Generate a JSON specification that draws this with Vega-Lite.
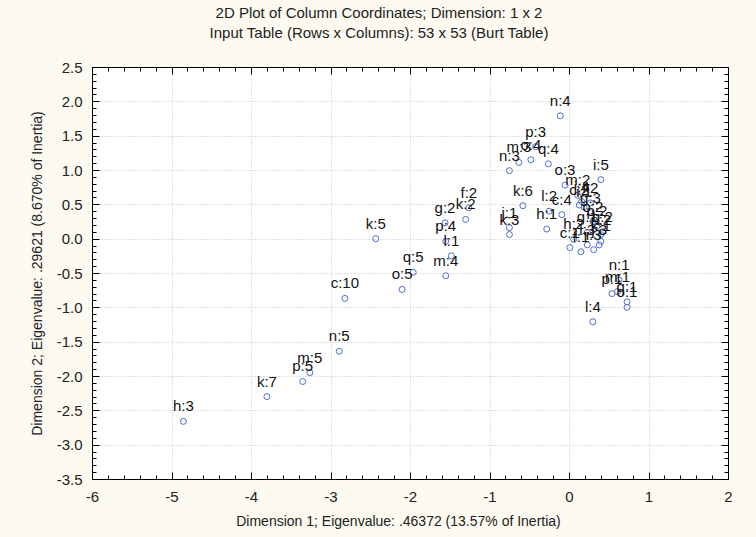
{
  "$schema": "https://vega.github.io/schema/vega-lite/v6.json",
  "width": 636,
  "height": 412,
  "autosize": {"type": "none"},
  "padding": {"left": 92, "top": 67, "right": 28, "bottom": 58},
  "background": "#fcfaf1",
  "title": {
    "text": ["2D Plot of Column Coordinates; Dimension: 1 x 2", "Input Table (Rows x Columns): 53 x 53 (Burt Table)"],
    "font": "Liberation Sans",
    "fontSize": 15,
    "fontWeight": "normal",
    "color": "#222222",
    "anchor": "middle",
    "dx": -31,
    "offset": 19,
    "lineHeight": 20
  },
  "config": {
    "font": "Liberation Sans",
    "view": {"stroke": "#000000", "strokeWidth": 1, "fill": "#ffffff"},
    "axis": {
      "domainColor": "#000000",
      "tickColor": "#000000",
      "labelFont": "Liberation Sans",
      "labelFontSize": 15,
      "labelColor": "#222222",
      "titleFont": "Liberation Sans",
      "titleFontSize": 14,
      "titleFontWeight": "normal",
      "titleColor": "#222222"
    }
  },
  "data": {
    "values": [
      {"label": "h:3", "d1": -4.85, "d2": -2.66},
      {"label": "k:7", "d1": -3.80, "d2": -2.30},
      {"label": "p:5", "d1": -3.35, "d2": -2.08},
      {"label": "m:5", "d1": -3.26, "d2": -1.95},
      {"label": "n:5", "d1": -2.89, "d2": -1.64},
      {"label": "c:10", "d1": -2.82, "d2": -0.87},
      {"label": "k:5", "d1": -2.43, "d2": 0.0},
      {"label": "o:5", "d1": -2.10, "d2": -0.74},
      {"label": "q:5", "d1": -1.96, "d2": -0.49},
      {"label": "m:4", "d1": -1.55, "d2": -0.54},
      {"label": "l:1", "d1": -1.48, "d2": -0.25},
      {"label": "p:4", "d1": -1.55, "d2": -0.04},
      {"label": "g:2", "d1": -1.56, "d2": 0.23},
      {"label": "f:2", "d1": -1.26, "d2": 0.45},
      {"label": "k:2", "d1": -1.30, "d2": 0.28},
      {"label": "j:1", "d1": -0.75, "d2": 0.16},
      {"label": "k:3", "d1": -0.75, "d2": 0.06},
      {"label": "n:3", "d1": -0.75, "d2": 0.99},
      {"label": "m:3", "d1": -0.63, "d2": 1.11},
      {"label": "o:4", "d1": -0.48, "d2": 1.15},
      {"label": "p:3", "d1": -0.42, "d2": 1.34},
      {"label": "q:4", "d1": -0.26, "d2": 1.09},
      {"label": "n:4", "d1": -0.11, "d2": 1.79},
      {"label": "k:6", "d1": -0.58, "d2": 0.48},
      {"label": "o:3", "d1": -0.05, "d2": 0.78},
      {"label": "i:5", "d1": 0.40, "d2": 0.86},
      {"label": "l:2", "d1": -0.25, "d2": 0.40},
      {"label": "c:4", "d1": -0.09, "d2": 0.35},
      {"label": "h:1", "d1": -0.28, "d2": 0.14},
      {"label": "n:1", "d1": 0.63, "d2": -0.60},
      {"label": "p:1", "d1": 0.54, "d2": -0.80},
      {"label": "m:1", "d1": 0.61, "d2": -0.77},
      {"label": "q:1", "d1": 0.73, "d2": -0.92},
      {"label": "o:1", "d1": 0.73, "d2": -1.00},
      {"label": "l:4", "d1": 0.30, "d2": -1.21},
      {"label": "m:2", "d1": 0.11, "d2": 0.63},
      {"label": "j:4", "d1": 0.16, "d2": 0.54},
      {"label": "i:2", "d1": 0.27, "d2": 0.52},
      {"label": "c:2", "d1": 0.13, "d2": 0.49},
      {"label": "i:1", "d1": 0.19, "d2": 0.46},
      {"label": "h:2", "d1": 0.06, "d2": -0.01},
      {"label": "g:3", "d1": 0.27, "d2": 0.38},
      {"label": "q:2", "d1": 0.42, "d2": 0.10},
      {"label": "c:1", "d1": 0.01, "d2": -0.13},
      {"label": "f:1", "d1": 0.15, "d2": -0.19},
      {"label": "g:1", "d1": 0.23, "d2": 0.09},
      {"label": "i:3", "d1": 0.31, "d2": -0.16},
      {"label": "j:3", "d1": 0.38, "d2": -0.09},
      {"label": "k:1", "d1": 0.40, "d2": -0.04},
      {"label": "l:3", "d1": 0.23, "d2": -0.09},
      {"label": "n:2", "d1": 0.40, "d2": 0.06},
      {"label": "o:2", "d1": 0.30, "d2": 0.25},
      {"label": "p:2", "d1": 0.35, "d2": 0.18}
    ]
  },
  "resolve": {"axis": {"x": "independent", "y": "independent"}},
  "layer": [
    {
      "mark": {"type": "point", "shape": "circle", "filled": false, "size": 36, "strokeWidth": 1, "color": "#4d6fd1", "opacity": 1},
      "encoding": {
        "x": {
          "field": "d1", "type": "quantitative",
          "scale": {"domain": [-6, 2], "nice": false, "zero": false},
          "axis": {
            "orient": "bottom",
            "title": "Dimension 1; Eigenvalue: .46372 (13.57% of Inertia)",
            "titlePadding": 10,
            "titleX": 306,
            "values": [-6, -5.8, -5.6, -5.4, -5.2, -5, -4.8, -4.6, -4.4, -4.2, -4, -3.8, -3.6, -3.4, -3.2, -3, -2.8, -2.6, -2.4, -2.2, -2, -1.8, -1.6, -1.4, -1.2, -1, -0.8, -0.6, -0.4, -0.2, 0, 0.2, 0.4, 0.6, 0.8, 1, 1.2, 1.4, 1.6, 1.8, 2],
            "labelExpr": "abs(datum.value - round(datum.value)) < 0.001 ? ((datum.value < 0 ? '-' : '') + format(abs(datum.value), 'd')) : ''",
            "tickSize": {"condition": {"test": "abs(datum.value - round(datum.value)) < 0.001", "value": -7}, "value": -4},
            "labelPadding": 17,
            "labelFlush": false,
            "grid": true,
            "gridColor": "#c4c4c4",
            "gridDash": [1, 2],
            "gridOpacity": {"condition": {"test": "abs(datum.value - round(datum.value)) < 0.001", "value": 1}, "value": 0}
          }
        },
        "y": {
          "field": "d2", "type": "quantitative",
          "scale": {"domain": [-3.5, 2.5], "nice": false, "zero": false},
          "axis": {
            "orient": "left",
            "title": "Dimension 2; Eigenvalue: .29621 (8.670% of Inertia)",
            "titlePadding": 12,
            "values": [-3.5, -3.4, -3.3, -3.2, -3.1, -3, -2.9, -2.8, -2.7, -2.6, -2.5, -2.4, -2.3, -2.2, -2.1, -2, -1.9, -1.8, -1.7, -1.6, -1.5, -1.4, -1.3, -1.2, -1.1, -1, -0.9, -0.8, -0.7, -0.6, -0.5, -0.4, -0.3, -0.2, -0.1, 0, 0.1, 0.2, 0.3, 0.4, 0.5, 0.6, 0.7, 0.8, 0.9, 1, 1.1, 1.2, 1.3, 1.4, 1.5, 1.6, 1.7, 1.8, 1.9, 2, 2.1, 2.2, 2.3, 2.4, 2.5],
            "labelExpr": "abs(datum.value * 2 - round(datum.value * 2)) < 0.001 ? ((datum.value < -0.01 ? '-' : '') + format(abs(datum.value), '.1f')) : ''",
            "tickSize": {"condition": {"test": "abs(datum.value * 2 - round(datum.value * 2)) < 0.001", "value": -7}, "value": -4},
            "labelPadding": 17,
            "labelFlush": false,
            "grid": true,
            "gridColor": "#c4c4c4",
            "gridDash": [1, 2],
            "gridOpacity": {"condition": {"test": "abs(datum.value * 2 - round(datum.value * 2)) < 0.001", "value": 1}, "value": 0}
          }
        }
      }
    },
    {
      "mark": {"type": "text", "align": "center", "baseline": "alphabetic", "dy": -10, "fontSize": 15, "font": "Liberation Sans", "color": "#111111"},
      "encoding": {
        "x": {
          "field": "d1", "type": "quantitative",
          "scale": {"domain": [-6, 2], "nice": false, "zero": false},
          "axis": {
            "orient": "top",
            "title": null,
            "labels": false,
            "grid": false,
            "values": [-6, -5.8, -5.6, -5.4, -5.2, -5, -4.8, -4.6, -4.4, -4.2, -4, -3.8, -3.6, -3.4, -3.2, -3, -2.8, -2.6, -2.4, -2.2, -2, -1.8, -1.6, -1.4, -1.2, -1, -0.8, -0.6, -0.4, -0.2, 0, 0.2, 0.4, 0.6, 0.8, 1, 1.2, 1.4, 1.6, 1.8, 2],
            "tickSize": {"condition": {"test": "abs(datum.value - round(datum.value)) < 0.001", "value": -7}, "value": -4}
          }
        },
        "y": {
          "field": "d2", "type": "quantitative",
          "scale": {"domain": [-3.5, 2.5], "nice": false, "zero": false},
          "axis": {
            "orient": "right",
            "title": null,
            "labels": false,
            "grid": false,
            "values": [-3.5, -3.4, -3.3, -3.2, -3.1, -3, -2.9, -2.8, -2.7, -2.6, -2.5, -2.4, -2.3, -2.2, -2.1, -2, -1.9, -1.8, -1.7, -1.6, -1.5, -1.4, -1.3, -1.2, -1.1, -1, -0.9, -0.8, -0.7, -0.6, -0.5, -0.4, -0.3, -0.2, -0.1, 0, 0.1, 0.2, 0.3, 0.4, 0.5, 0.6, 0.7, 0.8, 0.9, 1, 1.1, 1.2, 1.3, 1.4, 1.5, 1.6, 1.7, 1.8, 1.9, 2, 2.1, 2.2, 2.3, 2.4, 2.5],
            "tickSize": {"condition": {"test": "abs(datum.value * 2 - round(datum.value * 2)) < 0.001", "value": -7}, "value": -4}
          }
        },
        "text": {"field": "label"}
      }
    }
  ]
}
